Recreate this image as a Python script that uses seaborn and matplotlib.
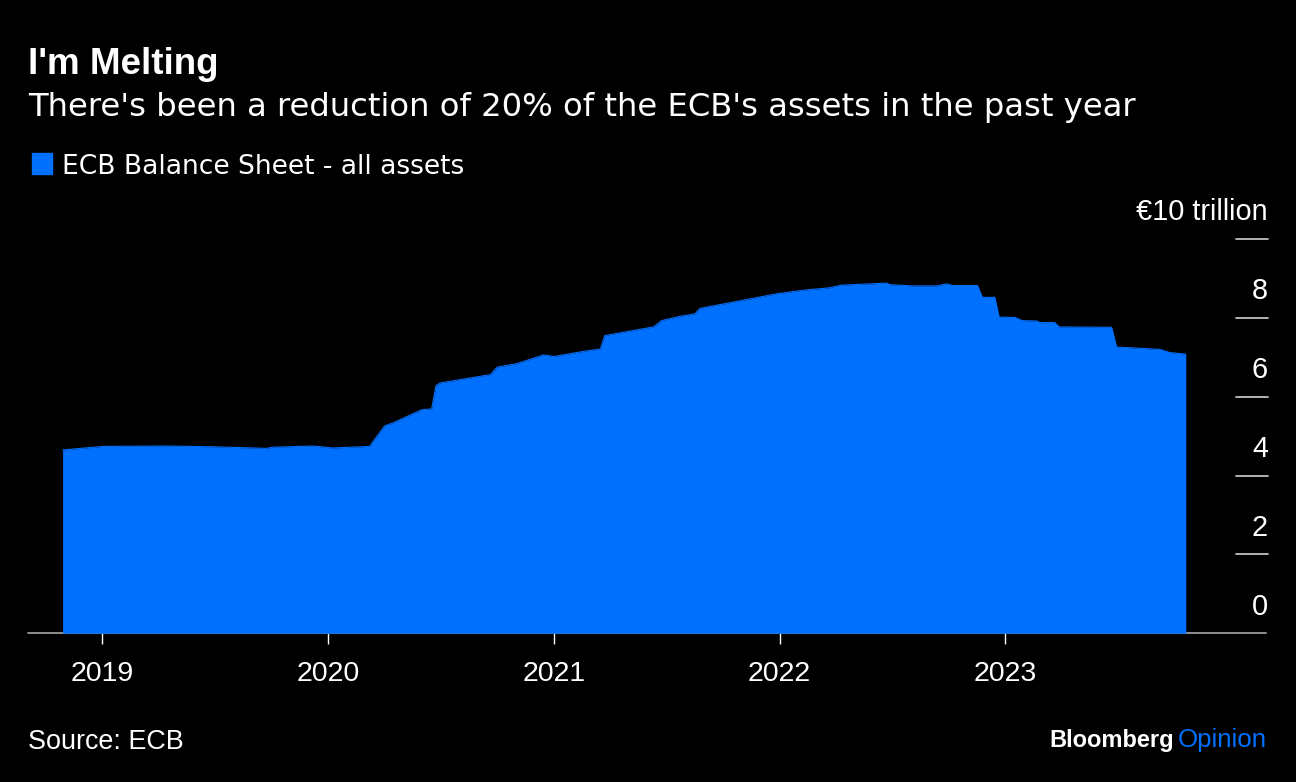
import matplotlib
matplotlib.use("Agg")
import matplotlib.pyplot as plt
import pandas as pd
import seaborn as sns

# ECB balance sheet, all assets (EUR trillion)
dates = ["2018-10-29", "2019-01-03", "2019-04-15", "2019-07-01", "2019-09-24",
         "2019-10-04", "2019-12-08", "2020-01-09", "2020-03-09", "2020-03-14",
         "2020-04-02", "2020-04-16", "2020-06-01", "2020-06-17", "2020-06-24",
         "2020-07-01", "2020-09-20", "2020-10-01", "2020-11-02", "2020-12-15",
         "2021-01-01", "2021-02-18", "2021-03-17", "2021-03-24", "2021-06-11",
         "2021-06-24", "2021-07-24", "2021-08-17", "2021-08-25", "2021-10-18",
         "2021-12-27", "2022-02-14", "2022-03-21", "2022-04-11", "2022-06-23",
         "2022-06-29", "2022-08-05", "2022-09-12", "2022-09-28", "2022-10-09",
         "2022-11-17", "2022-11-25", "2022-12-15", "2022-12-22", "2023-01-17",
         "2023-01-28", "2023-02-21", "2023-02-26", "2023-03-22", "2023-03-29",
         "2023-06-22", "2023-06-30", "2023-09-08", "2023-09-24", "2023-10-20"]
assets = [4.65, 4.74, 4.75, 4.73, 4.69,
          4.72, 4.75, 4.70, 4.74, 4.86,
          5.26, 5.34, 5.67, 5.69, 6.28,
          6.35, 6.56, 6.75, 6.84, 7.06,
          7.02, 7.15, 7.21, 7.55, 7.77,
          7.93, 8.04, 8.10, 8.24, 8.40,
          8.61, 8.71, 8.76, 8.83, 8.88,
          8.84, 8.81, 8.81, 8.86, 8.82,
          8.82, 8.52, 8.52, 8.02, 8.01,
          7.93, 7.92, 7.88, 7.88, 7.77,
          7.76, 7.26, 7.20, 7.12, 7.08]
years = [2019, 2020, 2021, 2022, 2023]
y_ticks = [0, 2, 4, 6, 8, 10]

df = pd.DataFrame({"date": pd.to_datetime(dates), "assets": assets})

BLUE = "#0070ff"
sns.set_theme(style="dark", rc={"axes.facecolor": "black", "figure.facecolor": "black"})
plt.rcParams["font.family"] = ["Liberation Sans", "DejaVu Sans"]

fig = plt.figure(figsize=(12.96, 7.82), dpi=100)
ax = fig.add_axes([0.0216, 0.19015, 0.95679, 0.50422])
ax.set_facecolor("black")

# Draw the area
sns.lineplot(data=df, x="date", y="assets", color=BLUE, linewidth=0.8, ax=ax, zorder=3)
ax.fill_between(df["date"], 0, df["assets"], color=BLUE, linewidth=0, zorder=3)

ax.set_xlim(pd.Timestamp("2018-09-03"), pd.Timestamp("2024-03-01"))
ax.set_ylim(0, 10)
for s in ax.spines.values():
    s.set_visible(False)
ax.grid(False)
ax.set_xlabel("")
ax.set_ylabel("")

# baseline
ax.plot([0, 0.998], [0, 0], transform=ax.get_yaxis_transform(), color="#9a9a9a", lw=1.3, zorder=2,
        clip_on=False)

# y ticks: short lines on the right, labels above them
ax.set_yticks([])
for v in y_ticks:
    if v > 0:
        ax.plot([0.974, 1.0], [v, v], transform=ax.get_yaxis_transform(), color="#d0d0d0", lw=1.2,
                clip_on=False)
    label = "€10 trillion" if v == 10 else str(v)
    ax.text(1.0, v + 0.47, label, transform=ax.get_yaxis_transform(), ha="right", va="baseline",
            color="white", fontsize=20.8)

# x ticks
ax.set_xticks([pd.Timestamp(f"{y}-01-01") for y in years])
ax.set_xticklabels([str(y) for y in years])
ax.tick_params(axis="x", colors="white", labelsize=20.5, length=8, width=1, pad=12, bottom=True,
               direction="out")
for t in ax.xaxis.get_ticklines():
    t.set_color("#b0b0b0")

# titles, legend, footer
fig.text(28 / 1296, 1 - 73.5 / 782, "I'm Melting", color="white", fontsize=26.5, fontweight="bold",
         va="baseline")
fig.text(28 / 1296, 1 - 116 / 782, "There's been a reduction of 20% of the ECB's assets in the past year",
         color="white", fontsize=23.2, va="baseline", family=["DejaVu Sans"])
fig.patches.append(plt.Rectangle((32 / 1296, 1 - 174 / 782), 20 / 1296, 21 / 782, color=BLUE,
                                 transform=fig.transFigure, figure=fig))
fig.text(62 / 1296, 1 - 173.5 / 782, "ECB Balance Sheet - all assets", color="white", fontsize=19.1,
         va="baseline", family=["DejaVu Sans"])
fig.text(28 / 1296, 1 - 749 / 782, "Source: ECB", color="white", fontsize=19.4, va="baseline")
fig.text(1267 / 1296, 1 - 747 / 782, "Opinion", color=BLUE, fontsize=18.6, va="baseline", ha="right")
fig.text(1174 / 1296, 1 - 747 / 782, "Bloomberg", color="white", fontsize=17, fontweight="bold",
         va="baseline", ha="right")

fig.savefig("out.png", dpi=100, facecolor="black")
